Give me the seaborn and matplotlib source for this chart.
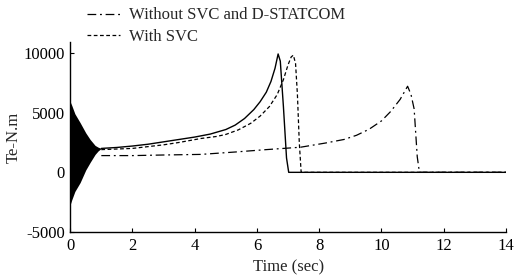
import numpy as np
import pandas as pd
import matplotlib
matplotlib.use("Agg")
import matplotlib.pyplot as plt
import seaborn as sns

# transient band at start (upper / lower envelope of the fast oscillation)
t_env = [0.0, 0.05, 0.15, 0.32, 0.5, 0.64, 0.8, 0.9, 1.0]
env_hi = [5900, 5600, 4900, 4150, 3300, 2750, 2250, 2100, 2000]
env_lo = [-2700, -2300, -1600, -850, 200, 830, 1500, 1800, 2000]

# with D-STATCOM (solid)
t_stat = [1.0, 1.5, 2.0, 2.5, 3.0, 3.5, 4.0, 4.5, 5.0, 5.3, 5.6, 5.9, 6.1, 6.3, 6.45,
          6.58, 6.68, 6.75, 6.85, 6.95, 7.02, 14.0]
te_stat = [2000, 2080, 2200, 2350, 2550, 2750, 2950, 3200, 3580, 3950, 4500, 5250,
           5900, 6700, 7600, 8700, 9900, 9300, 5500, 1200, 0, 0]

# with SVC (dashed)
t_svc = [1.0, 1.5, 2.0, 2.5, 3.0, 3.5, 4.2, 4.7, 5.0, 5.4, 5.8, 6.1, 6.4, 6.65, 6.85,
         7.0, 7.1, 7.17, 7.24, 7.3, 7.36, 7.42, 14.0]
te_svc = [1900, 1950, 2000, 2150, 2300, 2500, 2830, 3000, 3170, 3550, 4100, 4700,
          5500, 6500, 7750, 9000, 9650, 9800, 9100, 6500, 2500, 0, 0]

# without SVC and D-STATCOM (dash-dot)
t_none = [1.0, 2.0, 3.0, 4.2, 5.3, 6.3, 7.4, 8.2, 8.8, 9.2, 9.6, 10.0, 10.3, 10.6,
          10.84, 10.95, 11.05, 11.15, 11.22, 14.0]
te_none = [1400, 1400, 1450, 1500, 1700, 1900, 2100, 2450, 2750, 3100, 3600, 4300,
           5100, 6100, 7200, 6500, 5300, 1300, 0, 0]

sns.set_theme(style="ticks")
plt.rcParams['font.family'] = ['Liberation Serif', 'DejaVu Serif']
plt.rcParams['axes.unicode_minus'] = False
plt.rcParams['xtick.direction'] = 'in'
plt.rcParams['ytick.direction'] = 'in'

fig = plt.figure(figsize=(5.2, 2.8), dpi=100)
ax = fig.add_axes([0.135, 0.171, 0.838, 0.679])

ax.fill_between(t_env, env_lo, env_hi, color='black', linewidth=0)
sns.lineplot(x=t_none, y=te_none, ax=ax, color='black', lw=0.9,
             linestyle=(0, (7, 3, 1.5, 3)), label='Without SVC and D-STATCOM')
sns.lineplot(x=t_svc, y=te_svc, ax=ax, color='black', lw=0.9,
             linestyle=(0, (3, 2)), label='With SVC')
sns.lineplot(x=t_stat, y=te_stat, ax=ax, color='black', lw=1.0, linestyle='-')

ax.set_xlim(0, 14)
ax.set_ylim(-5000, 10900)
ax.set_xticks(range(0, 15, 2))
ax.set_yticks([-5000, 0, 5000, 10000])
ax.tick_params(labelsize=12, length=3, width=0.8, colors='black', pad=4)
sns.despine(ax=ax)
for s in ['left', 'bottom']:
    ax.spines[s].set_linewidth(1.0)
    ax.spines[s].set_color('black')
ax.set_xlabel('Time (sec)', fontsize=12, labelpad=4)
ax.set_ylabel('Te-N.m', fontsize=12, labelpad=1)

h, l = ax.get_legend_handles_labels()
ax.get_legend().remove()
fig.legend(h, l, loc='upper left', bbox_to_anchor=(0.145, 1.015), frameon=False,
           fontsize=12, handlelength=2.0, handletextpad=0.5, labelspacing=0.35,
           borderpad=0.2)

fig.savefig('out.png', dpi=100)
